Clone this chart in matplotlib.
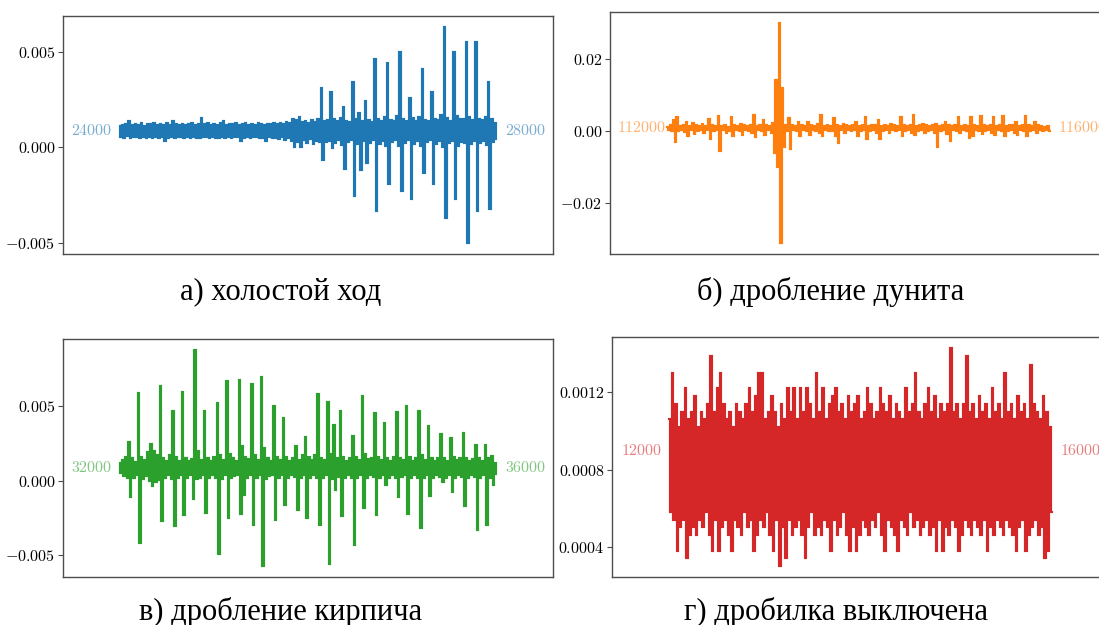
import numpy as np
import matplotlib

matplotlib.use("Agg")
import matplotlib.pyplot as plt
from matplotlib.ticker import FixedLocator, FuncFormatter


plt.rcParams["mathtext.fontset"] = "cm"

# sample windows shown in each panel (first and last sample number)
WINDOW_A = (24000, 28000)
WINDOW_B = (112000, 116000)
WINDOW_C = (32000, 36000)
WINDOW_D = (12000, 16000)

TITLES = [
    "а) холостой ход",
    "б) дробление дунита",
    "в) дробление кирпича",
    "г) дробилка выключена",
]

# Signal: for every short step along the window the
# upper and the lower sample value.  Units of 1e-5 (panels a, c, d), 1e-4 (b).
HI_A = [
    112, 118, 121, 138, 116, 124, 119, 127, 114, 122,
    120, 126, 117, 123, 115, 128, 119, 139, 121, 116,
    125, 118, 122, 129, 117, 124, 152, 120, 126, 115,
    123, 119, 127, 140, 118, 124, 121, 128, 116, 122,
    126, 119, 123, 117, 130, 121, 118, 125, 120, 127,
    122, 129, 124, 133, 128, 150, 145, 158, 132, 140,
    128, 145, 135, 150, 310, 138, 142, 290, 148, 136,
    155, 210, 140, 132, 340, 150, 180, 138, 245, 145,
    135, 462, 150, 140, 158, 440, 142, 136, 165, 500,
    148, 138, 260, 152, 140, 160, 410, 145, 138, 290,
    150, 142, 170, 630, 155, 140, 500, 165, 148, 150,
    550, 158, 142, 550, 150, 145, 160, 340, 150, 128,
]
LO_A = [
    55, 50, 58, 47, 54, 52, 49, 56, 51, 53,
    48, 55, 50, 53, 36, 51, 54, 49, 52, 56,
    50, 53, 47, 55, 51, 49, 54, 52, 48, 55,
    51, 47, 54, 50, 53, 49, 55, 52, 36, 50,
    54, 48, 52, 55, 50, 47, 33, 53, 49, 51,
    46, 52, 40, 48, 35, 0, 30, 2, 38, 25,
    42, 20, 35, 30, -68, 28, 35, -2, 22, 38,
    15, -115, 30, 40, -255, 20, -120, 35, -83, 25,
    38, -330, 20, 35, 10, -190, 30, 40, 5, -230,
    25, 38, -270, 18, 35, 10, -135, 30, 38, -190,
    20, 35, 0, -370, 25, 35, -270, 10, 30, 22,
    -500, 18, 35, -330, 25, 35, 15, -320, 28, 45,
]

HI_B = [
    12, 16, 30, 39, 14, 18, 25, 15, 22, 17,
    14, 19, 15, 33, 16, 14, 42, 15, 18, 13,
    40, 16, 14, 20, 17, 15, 18, 44, 14, 16,
    30, 17, 15, 22, 143, 300, 120, 18, 37, 16,
    14, 25, 17, 15, 26, 16, 14, 19, 44, 15,
    17, 14, 37, 16, 15, 20, 17, 14, 16, 26,
    15, 18, 40, 14, 16, 17, 30, 15, 18, 14,
    20, 16, 15, 40, 17, 14, 16, 44, 15, 18,
    20, 16, 14, 17, 20, 15, 18, 25, 16, 14,
    17, 40, 15, 18, 14, 40, 16, 15, 42, 17,
    14, 16, 40, 15, 18, 42, 14, 17, 16, 25,
    15, 18, 42, 16, 14, 25, 17, 15, 13, 14,
]
LO_B = [
    2, 0, -30, 1, 3, -2, -14, 2, -8, 0,
    3, -5, 2, -22, 1, 3, -54, 2, -4, 1,
    -12, 3, 0, -10, 2, 1, -5, -17, 3, 0,
    -10, 2, -5, -60, -99, -310, -45, 1, -48, 2,
    0, -12, 3, 1, -10, 2, 0, -5, -14, 2,
    1, 0, -12, -33, 2, -5, 3, 0, 2, -12,
    1, 3, -22, 0, 2, -5, -22, 1, 3, -6,
    2, 0, 3, -12, 1, 2, -4, -10, 0, 3,
    -5, 1, 2, -4, -45, 1, 3, -8, -27, 2,
    0, -5, 2, 1, -18, -12, 2, 1, -8, 0,
    3, -4, -10, 2, 1, -12, 0, 3, -5, -10,
    2, 0, -12, 1, 3, -6, 2, 0, 3, 1,
]

HI_C = [
    120, 140, 160, 257, 150, 125, 589, 160, 140, 190,
    248, 200, 174, 637, 150, 130, 170, 465, 160, 135,
    595, 150, 130, 145, 879, 200, 140, 465, 155, 130,
    160, 521, 170, 140, 671, 180, 150, 135, 678, 235,
    160, 145, 649, 170, 140, 696, 220, 150, 135, 499,
    160, 140, 421, 160, 130, 150, 235, 140, 174, 293,
    160, 140, 170, 584, 155, 140, 530, 180, 374, 150,
    465, 160, 135, 150, 297, 160, 140, 570, 180, 145,
    150, 454, 160, 140, 387, 150, 130, 160, 458, 150,
    140, 503, 160, 135, 150, 465, 170, 140, 369, 150,
    130, 155, 315, 150, 135, 284, 160, 140, 150, 320,
    155, 135, 145, 242, 150, 135, 242, 150, 168, 120,
]
LO_C = [
    50, 30, 20, -110, 20, 40, -418, 10, 30, 0,
    -38, -10, 7, -273, 15, 35, 10, -306, 20, 40,
    -233, 15, 35, -123, 10, 20, 40, -217, 15, 35,
    20, -492, 10, 35, -250, 15, 30, 40, -221, -94,
    20, 35, -300, 15, 40, -575, 10, 30, 40, -262,
    20, 35, -166, 15, 40, 25, -195, 20, 35, -250,
    15, 35, 20, -295, 15, 35, -557, 10, -60, 25,
    -240, 20, 40, 15, -430, 20, 35, -183, 15, 40,
    25, -228, 20, 35, -27, 15, 40, 20, -110, 25,
    35, -221, 15, 40, 20, -318, 15, 35, -105, 20,
    40, 25, -11, 20, 40, -78, 15, 35, 25, -172,
    20, 40, 25, -329, 20, 35, -295, 15, -27, 45,
]

HI_D = [
    106, 130, 114, 102, 110, 122, 106, 110, 118, 102,
    110, 106, 114, 139, 110, 122, 130, 114, 106, 110,
    102, 114, 110, 106, 114, 122, 110, 118, 130, 130,
    106, 110, 118, 110, 102, 114, 106, 122, 110, 122,
    106, 122, 110, 122, 114, 106, 130, 110, 122, 106,
    114, 118, 122, 110, 114, 106, 118, 110, 114, 118,
    106, 110, 122, 114, 106, 110, 122, 114, 110, 118,
    106, 114, 110, 106, 122, 110, 114, 130, 110, 106,
    114, 122, 110, 118, 106, 114, 110, 114, 143, 110,
    114, 106, 114, 139, 110, 114, 106, 118, 110, 114,
    106, 122, 110, 114, 106, 130, 110, 114, 106, 118,
    110, 114, 106, 134, 114, 110, 106, 118, 110, 102,
]
LO_D = [
    58, 54, 38, 50, 54, 34, 46, 50, 46, 54,
    50, 58, 46, 38, 54, 38, 50, 54, 46, 38,
    54, 50, 46, 58, 50, 54, 38, 46, 54, 50,
    58, 46, 38, 54, 30, 50, 34, 54, 46, 50,
    54, 46, 34, 50, 58, 46, 50, 46, 54, 50,
    38, 54, 46, 50, 58, 46, 38, 50, 38, 46,
    54, 50, 46, 54, 50, 58, 46, 38, 54, 50,
    46, 38, 54, 50, 46, 58, 50, 54, 46, 50,
    54, 46, 50, 38, 54, 38, 50, 46, 54, 50,
    38, 46, 54, 50, 46, 54, 50, 46, 54, 38,
    50, 46, 54, 50, 46, 54, 50, 46, 38, 50,
    54, 38, 46, 50, 54, 46, 50, 34, 38, 58,
]

# y ticks of each panel
TICKS_A = [-0.005, 0.0, 0.005]
TICKS_B = [-0.02, 0.0, 0.02]
TICKS_C = [-0.005, 0.0, 0.005]
TICKS_D = [0.0004, 0.0008, 0.0012]

LABEL_LEVEL = 0.0009

FIG_W, FIG_H = 1099, 625


def build_signal(hi, lo, unit):
    """Join the upper and lower samples into one trace."""
    signal = np.empty(2 * len(hi))
    signal[0::2] = hi
    signal[1::2] = lo
    return signal * unit


def px_box(left, top, right, bottom):
    return [left / FIG_W, 1 - bottom / FIG_H, (right - left) / FIG_W, (bottom - top) / FIG_H]


def draw_panel(fig, box, window, signal, color, ticks, decimals, left_gap=5):
    ax = fig.add_axes(px_box(*box))
    start, end = window
    x = np.linspace(start, end, len(signal))
    # steps keep every sample as a vertical stroke, like a dense recording
    ax.plot(x, signal, color=color, linewidth=1.55, drawstyle="steps-mid",
            solid_joinstyle="miter")

    span = end - start
    ax.set_xlim(start - 0.15 * span, end + 0.15 * span)
    ax.set_xticks([])

    ax.yaxis.set_major_locator(FixedLocator(ticks))
    ax.yaxis.set_major_formatter(FuncFormatter(lambda v, pos: f"${v:.{decimals}f}$"))
    ax.tick_params(axis="y", length=3.5, width=0.8, color="0.3", labelsize=11.5, pad=2)

    for spine in ax.spines.values():
        spine.set_color("0.3")
        spine.set_linewidth(1.0)

    label_kw = dict(color=color, alpha=0.6, fontsize=11.5, va="center",
                    textcoords="offset points")
    ax.annotate(f"${start}$", (start, LABEL_LEVEL), xytext=(-left_gap, 0), ha="right", **label_kw)
    ax.annotate(f"${end}$", (end, LABEL_LEVEL), xytext=(6, 0), ha="left", **label_kw)
    return ax


def main():
    fig = plt.figure(figsize=(FIG_W / 100, FIG_H / 100), dpi=100)

    draw_panel(fig, (63, 16, 553, 254), WINDOW_A, build_signal(HI_A, LO_A, 1e-5),
               "#1f77b4", TICKS_A, 3)
    draw_panel(fig, (610, 12, 1107, 254), WINDOW_B, build_signal(HI_B, LO_B, 1e-4),
               "#ff7f0e", TICKS_B, 2, left_gap=1)
    draw_panel(fig, (63, 339, 553, 577), WINDOW_C, build_signal(HI_C, LO_C, 1e-5),
               "#2ca02c", TICKS_C, 3)
    draw_panel(fig, (612, 337, 1109, 577), WINDOW_D, build_signal(HI_D, LO_D, 1e-5),
               "#d62728", TICKS_D, 4)

    title_pos = [(281, 292), (831, 292), (281, 612), (836, 612)]
    for title, (tx, ty) in zip(TITLES, title_pos):
        fig.text(tx / FIG_W, 1 - ty / FIG_H, title, ha="center", va="center",
                 fontsize=22, family="Liberation Serif")

    fig.savefig("out.png", dpi=100)
    plt.close(fig)


if __name__ == "__main__":
    main()
